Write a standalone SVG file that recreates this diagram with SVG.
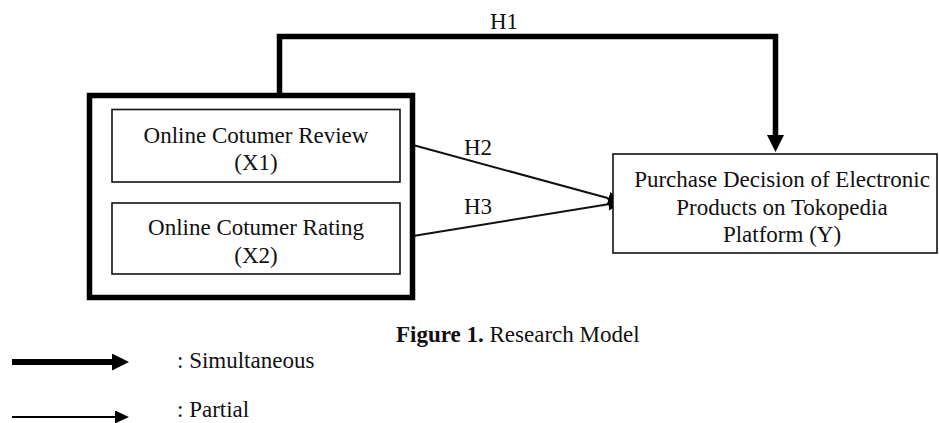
<svg xmlns="http://www.w3.org/2000/svg" width="939" height="423" viewBox="0 0 939 423">
<style>
text{font-family:"Liberation Serif","Times New Roman",serif;font-size:23px;fill:#111;}
.c{text-anchor:middle;}
.thin{fill:#fff;stroke:#111;stroke-width:1.6;}
.thick{fill:none;stroke:#000;stroke-width:5.5;}
.line{fill:none;stroke:#111;stroke-width:2;}
</style>
<defs>
<marker id="big" markerUnits="userSpaceOnUse" markerWidth="18" markerHeight="18" refX="0" refY="8.5" orient="auto"><path d="M0,0 L17,8.5 L0,17 z" fill="#000"/></marker>
<marker id="small" markerUnits="userSpaceOnUse" markerWidth="15" markerHeight="14" refX="0" refY="6.5" orient="auto"><path d="M0,0 L14,6.5 L0,13 z" fill="#000"/></marker>
</defs>
<g id="connectors">
<path class="thick" d="M279.5,96 V36.5 H775.5 V135" marker-end="url(#big)"/>
<line class="line" x1="413" y1="145" x2="608.5" y2="198.3" marker-end="url(#small)"/>
<line class="line" x1="413" y1="236" x2="608.2" y2="204.2" marker-end="url(#small)"/>
<text x="504" y="29" class="c">H1</text>
<text x="478" y="155" class="c">H2</text>
<text x="478" y="214" class="c">H3</text>
</g>
<g id="group-x">
<rect class="thick" x="89.5" y="95.5" width="323" height="202"/>
</g>
<g id="node-x1">
<rect class="thin" x="112" y="109.5" width="288" height="72.5"/>
<text x="256" y="143" class="c">Online Cotumer Review</text>
<text x="256" y="170" class="c">(X1)</text>
</g>
<g id="node-x2">
<rect class="thin" x="112" y="203" width="288" height="71"/>
<text x="256" y="235" class="c">Online Cotumer Rating</text>
<text x="256" y="263" class="c">(X2)</text>
</g>
<g id="node-y">
<rect class="thin" x="613" y="154" width="324" height="99"/>
<text x="782" y="187" class="c">Purchase Decision of Electronic</text>
<text x="782" y="215" class="c">Products on Tokopedia</text>
<text x="782" y="242" class="c">Platform (Y)</text>
</g>
<g id="caption">
<text x="396" y="342"><tspan font-weight="bold">Figure 1.</tspan> Research Model</text>
</g>
<g id="legend">
<line x1="12" y1="362" x2="112" y2="362" stroke="#000" stroke-width="6" marker-end="url(#big)"/>
<text x="177" y="368">: Simultaneous</text>
<line x1="12" y1="417" x2="115" y2="417" stroke="#000" stroke-width="2" marker-end="url(#small)"/>
<text x="177" y="417">: Partial</text>
</g>
</svg>
